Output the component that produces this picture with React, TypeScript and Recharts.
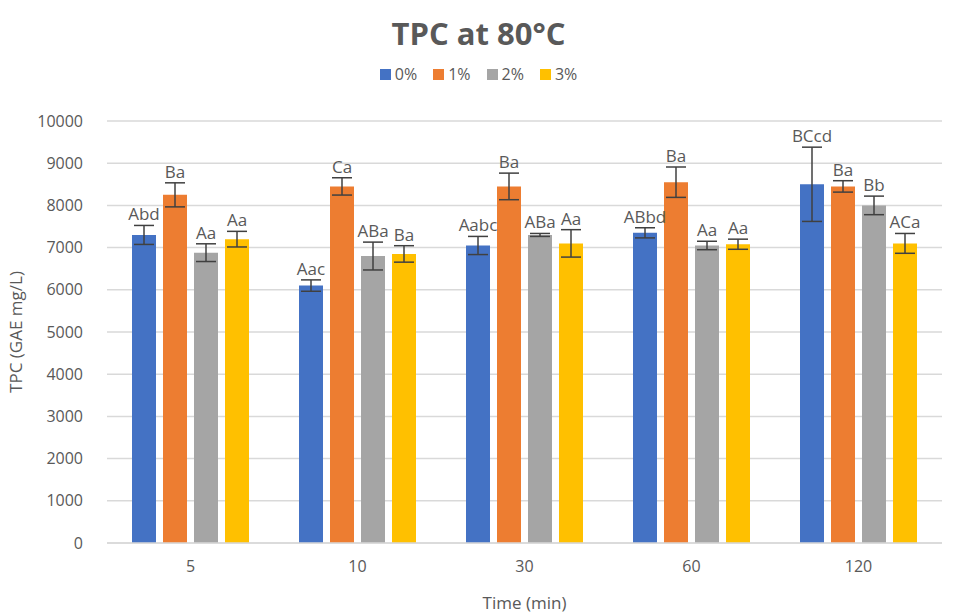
import React from 'react';
import { BarChart, Bar, XAxis, YAxis, CartesianGrid, Legend, ErrorBar, LabelList } from 'recharts';

const times = ['5', '10', '30', '60', '120'];
const series = ['0%', '1%', '2%', '3%'];
const colors = ['#4472C4', '#ED7D31', '#A5A5A5', '#FFC000'];

const tpc0 = [7300, 6100, 7050, 7350, 8500];
const tpc1 = [8250, 8450, 8450, 8550, 8450];
const tpc2 = [6880, 6800, 7300, 7050, 8000];
const tpc3 = [7200, 6850, 7100, 7080, 7100];

const err0 = [225, 135, 215, 120, 880];
const err1 = [285, 205, 315, 360, 135];
const err2 = [210, 330, 35, 100, 220];
const err3 = [185, 195, 325, 120, 235];

const letters0 = ['Abd', 'Aac', 'Aabc', 'ABbd', 'BCcd'];
const letters1 = ['Ba', 'Ca', 'Ba', 'Ba', 'Ba'];
const letters2 = ['Aa', 'ABa', 'ABa', 'Aa', 'Bb'];
const letters3 = ['Aa', 'Ba', 'Aa', 'Aa', 'ACa'];

const yTicks = [0, 1000, 2000, 3000, 4000, 5000, 6000, 7000, 8000, 9000, 10000];

const values = [tpc0, tpc1, tpc2, tpc3];
const errors = [err0, err1, err2, err3];

const data = times.map((t, i) => ({
  time: t,
  v0: tpc0[i], v1: tpc1[i], v2: tpc2[i], v3: tpc3[i],
  e0: err0[i], e1: err1[i], e2: err2[i], e3: err3[i],
  l0: letters0[i], l1: letters1[i], l2: letters2[i], l3: letters3[i],
}));

const FONT = '"Open Sans", sans-serif';
const TEXT = '#595959';

// label sits just above the top of the error bar
const makeLabel = (s: number) => (props: any) => {
  const { x, y, width, height, index, value } = props;
  const v = values[s][index];
  const perUnit = height / v;
  const top = y - errors[s][index] * perUnit;
  return (
    <text x={x + width / 2} y={top - 5} textAnchor="middle" fontSize={17} fill={TEXT} fontFamily={FONT}>
      {value}
    </text>
  );
};

const renderLegend = () => (
  <div style={{ display: 'flex', justifyContent: 'center', gap: 16, fontFamily: FONT, fontSize: 16, color: TEXT }}>
    {series.map((s, i) => (
      <div key={s} style={{ display: 'flex', alignItems: 'center' }}>
        <span style={{ width: 11, height: 11, background: colors[i], display: 'inline-block', marginRight: 4 }} />
        <span>{s}</span>
      </div>
    ))}
  </div>
);

export default function App() {
  return (
    <div style={{ position: 'relative', width: 957, height: 614, background: '#fff' }}>
      <style>{`body{margin:0}`}</style>
      <div style={{ position: 'absolute', top: 12, left: 0, width: 957, textAlign: 'center', fontFamily: FONT, fontWeight: 700, fontSize: 31, color: TEXT }}>
        TPC at 80°C
      </div>
      <BarChart
        width={957}
        height={614}
        data={data}
        margin={{ top: 121, right: 15, left: 0, bottom: 0 }}
        barSize={24}
        barGap={7}
      >
        <CartesianGrid vertical={false} stroke="#D9D9D9" strokeWidth={1.5} />
        <XAxis
          dataKey="time"
          height={71}
          tickLine={false}
          tickSize={0}
          tickMargin={18}
          stroke="#D9D9D9"
          strokeWidth={1.5}
          tick={{ fill: TEXT, fontSize: 16, fontFamily: FONT }}
          label={{ value: 'Time (min)', position: 'insideBottom', offset: 5, fill: TEXT, fontSize: 17, fontFamily: FONT }}
        />
        <YAxis
          width={107}
          domain={[0, 10000]}
          ticks={yTicks}
          axisLine={false}
          tickLine={false}
          tickSize={0}
          tickMargin={24}
          tick={{ fill: TEXT, fontSize: 16, fontFamily: FONT }}
          label={{ value: 'TPC (GAE mg/L)', angle: -90, position: 'insideLeft', offset: 16, fill: TEXT, fontSize: 17, fontFamily: FONT, style: { textAnchor: 'middle' } }}
        />
        <Legend verticalAlign="middle" wrapperStyle={{ top: 63, left: 0, width: 957 }} content={renderLegend} />
        {series.map((s, i) => (
          <Bar key={s} dataKey={`v${i}`} name={s} fill={colors[i]} isAnimationActive={false}>
            <ErrorBar dataKey={`e${i}`} width={10} strokeWidth={1.5} stroke="#404040" />
            <LabelList dataKey={`l${i}`} content={makeLabel(i)} />
          </Bar>
        ))}
      </BarChart>
    </div>
  );
}
